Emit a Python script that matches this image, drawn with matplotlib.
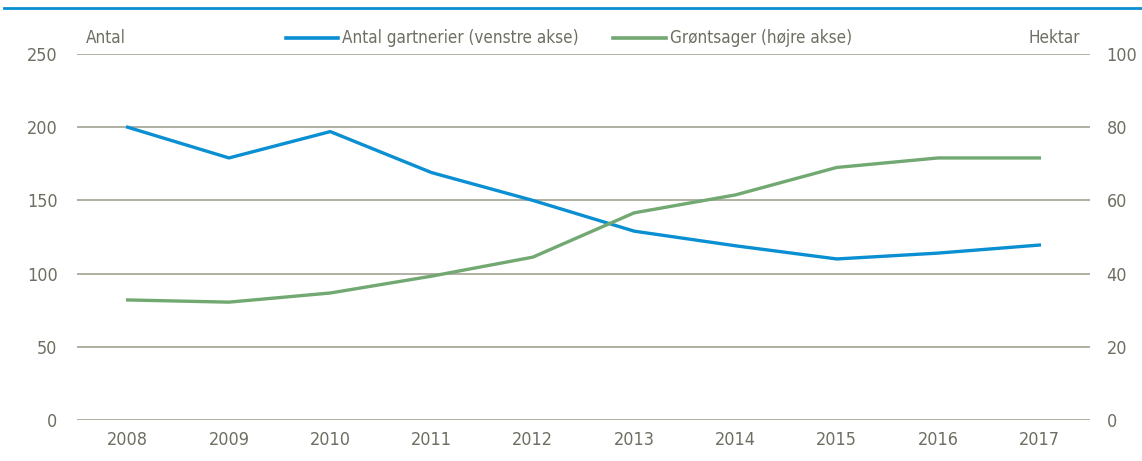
import matplotlib.pyplot as plt
from matplotlib.lines import Line2D
from matplotlib import font_manager

years = ['2008', '2009', '2010', '2011', '2012', '2013', '2014', '2015', '2016', '2017']
gartnerier = [200, 179, 197, 169, 150, 129, 119, 110, 114, 119.5]
groentsager = [32.8, 32.2, 34.7, 39.3, 44.5, 56.6, 61.5, 69.0, 71.6, 71.6]

# narrow font if there is one
names = {f.name for f in font_manager.fontManager.ttflist}
stretch = 'normal'
if 'Liberation Sans Narrow' in names:
    fam = 'Liberation Sans Narrow'
else:
    fam = 'Liberation Sans'
    cond = [f for f in font_manager.fontManager.ttflist if f.name == 'DejaVu Sans' and f.stretch in ('condensed', 'semi-condensed')]
    if cond:
        fam = 'DejaVu Sans'
        stretch = 'condensed'
plt.rcParams['font.family'] = [fam, 'DejaVu Sans']
plt.rcParams['font.stretch'] = stretch

txt = '#6e6e62'
grid_c = '#a9a99b'
blue = '#0a8fd2'
green = '#72a872'

fig = plt.figure(figsize=(11.42, 4.61), dpi=100)

# size the text so the legend label is as wide as in the picture (~237 px)
probe = fig.text(0, 0, 'Antal gartnerier (venstre akse)', fontsize=10)
w = probe.get_window_extent(fig.canvas.get_renderer()).width
probe.remove()
fs = min(15.5, 10 * 237 / w)

ax = fig.add_axes([77 / 1142, 1 - 420 / 461, (1090 - 77) / 1142, (420 - 54) / 461])
ax2 = ax.twinx()

x = range(len(years))
ax.plot(x, gartnerier, color=blue, lw=2.4, zorder=3)
ax2.plot(x, groentsager, color=green, lw=2.4, zorder=3)

ax.set_xlim(-0.5, len(years) - 0.5)
ax.set_ylim(0, 250)
ax2.set_ylim(0, 100)
ax.set_yticks(range(0, 251, 50))
ax2.set_yticks(range(0, 101, 20))
ax.set_xticks(list(x))
ax.set_xticklabels(years)

for y in range(0, 251, 50):
    ax.axhline(y, color=grid_c, lw=1.3, zorder=1)

for a in (ax, ax2):
    for s in a.spines.values():
        s.set_visible(False)
    a.tick_params(length=0, labelsize=fs * 1.05, labelcolor=txt)
ax.tick_params(axis='y', pad=14)
ax2.tick_params(axis='y', pad=12)
ax.tick_params(axis='x', pad=8)

ty = 1 - 38 / 461
fig.text(86 / 1142, ty, 'Antal', fontsize=fs, color=txt, va='center')
fig.text(1080 / 1142, ty, 'Hektar', fontsize=fs, color=txt, va='center', ha='right')

def leg(x0, x1, xt, color, label):
    fig.add_artist(Line2D([x0 / 1142, x1 / 1142], [ty] * 2, color=color, lw=2.6,
                          transform=fig.transFigure))
    fig.text(xt / 1142, ty, label, fontsize=fs, color=txt, va='center')

leg(286, 338, 342, blue, 'Antal gartnerier (venstre akse)')
leg(613, 666, 670, green, 'Grøntsager (højre akse)')

# blue rule at top
fig.add_artist(Line2D([4 / 1142, 1], [1 - 8 / 461] * 2, color=blue, lw=2,
                      transform=fig.transFigure))

fig.savefig('out.png', dpi=100)
